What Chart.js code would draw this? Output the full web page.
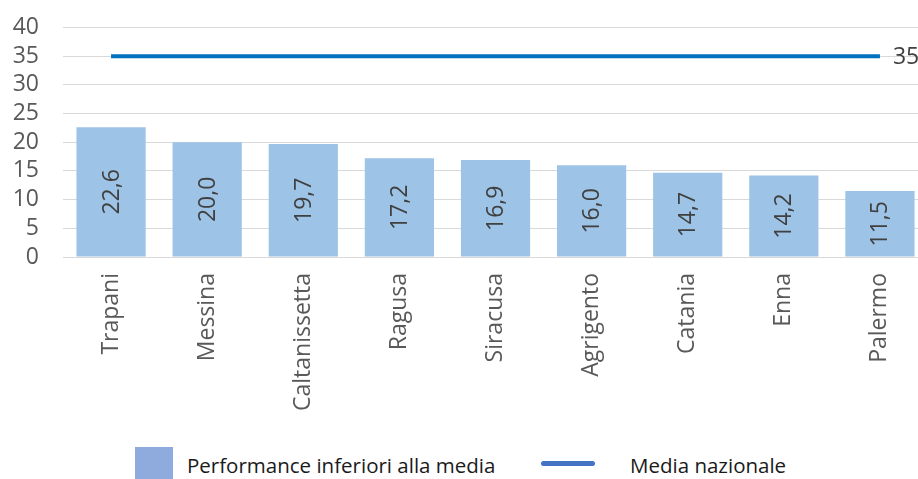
<!DOCTYPE html>
<html>
<head>
<meta charset="utf-8">
<script src="https://cdn.jsdelivr.net/npm/chart.js@4.4.1/dist/chart.umd.min.js"></script>
<style>
  html, body { margin: 0; padding: 0; background: #fff; overflow: hidden; }
  #wrap { position: relative; width: 918px; height: 479px; overflow: hidden; background: #fff; }
  #chartBox { position: absolute; left: 0; top: -8px; }
  .lg { position: absolute; font-family: "Open Sans", sans-serif; font-size: 20.5px; color: #1a1a1a; line-height: 28px; white-space: nowrap; }
</style>
</head>
<body>
<div id="wrap">
  <div id="chartBox"><canvas id="c" width="930" height="448" style="width:930px;height:448px"></canvas></div>
  <div style="position:absolute;left:135px;top:447px;width:38px;height:32px;background:#8FAADC"></div>
  <div class="lg" style="left:187px;top:451px">Performance inferiori alla media</div>
  <div style="position:absolute;left:541px;top:461px;width:54px;height:5px;border-radius:3px;background:#4472C4"></div>
  <div class="lg" style="left:630px;top:451px">Media nazionale</div>
</div>
<script>
const categories = ["Trapani", "Messina", "Caltanissetta", "Ragusa", "Siracusa", "Agrigento", "Catania", "Enna", "Palermo"];
const performanceValues = [22.6, 20.0, 19.7, 17.2, 16.9, 16.0, 14.7, 14.2, 11.5];
const mediaNazionale = [35, 35, 35, 35, 35, 35, 35, 35, 35];
const yTicks = [0, 5, 10, 15, 20, 25, 30, 35, 40];

const FONT = '"Open Sans", sans-serif';

const labelPlugin = {
  id: 'labelPlugin',
  afterDatasetsDraw(chart) {
    const ctx = chart.ctx;
    ctx.save();
    ctx.fillStyle = '#404040';
    ctx.font = '23px ' + FONT;
    const barMeta = chart.getDatasetMeta(0);
    barMeta.data.forEach((bar, i) => {
      const v = performanceValues[i];
      const txt = v.toFixed(1).replace('.', ',');
      const cy = (bar.y + bar.base) / 2;
      ctx.save();
      ctx.translate(bar.x, cy);
      ctx.rotate(-Math.PI / 2);
      ctx.textAlign = 'center';
      ctx.textBaseline = 'middle';
      ctx.fillText(txt, 0, 1);
      ctx.restore();
    });
    const lineMeta = chart.getDatasetMeta(1);
    const last = lineMeta.data[lineMeta.data.length - 1];
    ctx.textAlign = 'left';
    ctx.textBaseline = 'middle';
    ctx.fillText(String(mediaNazionale[mediaNazionale.length - 1]), last.x + 13, last.y + 1);
    ctx.restore();
  }
};

function draw() {
  new Chart(document.getElementById('c'), {
    type: 'bar',
    data: {
      labels: categories,
      datasets: [
        {
          label: 'Performance inferiori alla media',
          data: performanceValues,
          backgroundColor: '#9DC3E6',
          borderWidth: 0,
          categoryPercentage: 1.0,
          barPercentage: 0.72,
          order: 2
        },
        {
          type: 'line',
          label: 'Media nazionale',
          data: mediaNazionale,
          borderColor: '#0070C0',
          backgroundColor: '#0070C0',
          borderWidth: 4,
          pointRadius: 0,
          fill: false,
          tension: 0,
          order: 1
        }
      ]
    },
    options: {
      responsive: false,
      animation: false,
      devicePixelRatio: 1,
      layout: { padding: { top: 9, right: 2, left: 0, bottom: 0 } },
      plugins: {
        legend: { display: false },
        tooltip: { enabled: false }
      },
      scales: {
        x: {
          offset: true,
          grid: { display: false, drawTicks: false },
          border: { display: false },
          ticks: {
            color: '#595959',
            font: { family: FONT, size: 23 },
            minRotation: 90,
            maxRotation: 90,
            padding: 16,
            autoSkip: false
          },
          afterFit(scale) { scale.height = 448 - 265; }
        },
        y: {
          min: 0,
          max: 40,
          afterBuildTicks(scale) { scale.ticks = yTicks.map(v => ({ value: v })); },
          grid: { color: '#D9D9D9', lineWidth: 1, drawTicks: false },
          border: { display: false },
          ticks: {
            color: '#595959',
            font: { family: FONT, size: 23, lineHeight: 1.0 },
            padding: 24,
            autoSkip: false
          },
          afterFit(scale) { scale.width = 63; }
        }
      }
    },
    plugins: [labelPlugin]
  });
}

if (document.fonts && document.fonts.load) {
  Promise.all([document.fonts.load('23px "Open Sans"'), document.fonts.load('20.5px "Open Sans"')]).then(draw, draw);
} else {
  draw();
}
</script>
</body>
</html>
